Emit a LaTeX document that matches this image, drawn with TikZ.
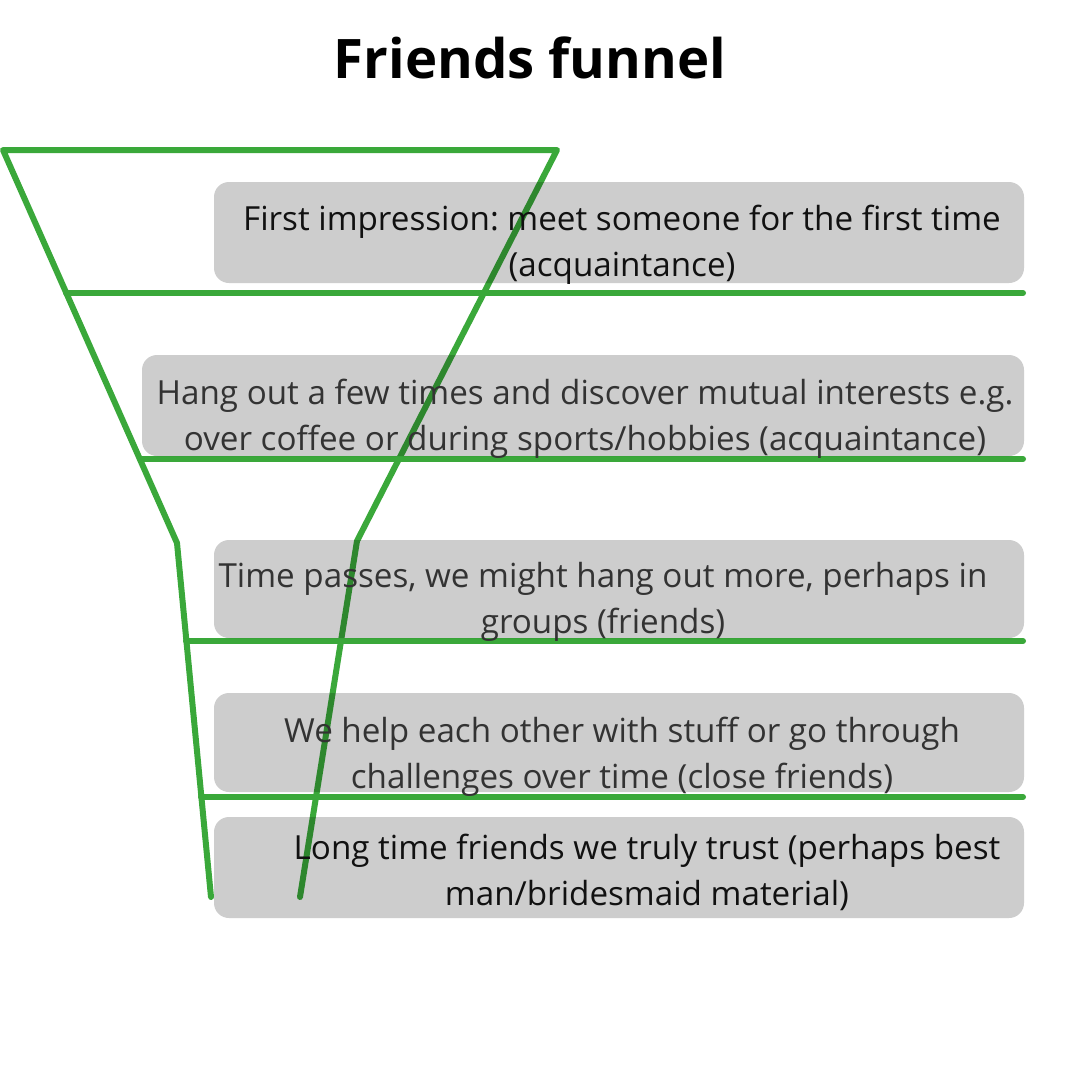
\documentclass[tikz,border=0pt]{standalone}
\usepackage{fontspec}
\setmainfont{Open Sans}
\usetikzlibrary{calc}
\frenchspacing
\definecolor{fgreen}{RGB}{58,168,58}
\definecolor{boxgray}{RGB}{205,205,205}
\definecolor{txtdark}{RGB}{51,51,51}
\definecolor{txtblack}{RGB}{17,17,17}
\tikzset{
  funnelline/.style={draw=fgreen, line width=6pt, line cap=round, line join=round},
  stagebox/.style={fill=boxgray, rounded corners=15pt},
  stagetext/.style={align=center, inner sep=0pt, font=\fontsize{33.2}{46}\selectfont},
}
\begin{document}
\begin{tikzpicture}[x=1pt,y=-1pt]
\useasboundingbox[fill=white] (0,0) rectangle (1080,1080);
% title
\node[font=\fontsize{54.5}{60}\selectfont\bfseries, text=black, anchor=base] (title) at (530,78) {Friends funnel};
% funnel points
\coordinate (LT) at (3,150);
\coordinate (LM) at (177,543);
\coordinate (LB) at (211,897);
\coordinate (RT) at (557,150);
\coordinate (RM) at (357,541);
\coordinate (RB) at (300,897);
% left ends of the level lines
\coordinate (h1) at (66,293);
\coordinate (h2) at (140,459);
\coordinate (h3) at (186,641);
\coordinate (h4) at (201,797);
\coordinate (e1) at (1023,293);
\coordinate (e2) at (1023,459);
\coordinate (e3) at (1023,641);
\coordinate (e4) at (1023,797);
% funnel
\draw[funnelline] (LB) -- (LM) -- (LT) -- (RT) -- (RM) -- (RB);
\draw[funnelline] (h1) -- (e1);
\draw[funnelline] (h2) -- (e2);
\draw[funnelline] (h3) -- (e3);
\draw[funnelline] (h4) -- (e4);
% boxes
\begin{scope}[blend mode=multiply]
\fill[stagebox] (214,182) rectangle (1024,283);
\fill[stagebox] (142,355) rectangle (1024,456);
\fill[stagebox] (214,540) rectangle (1024,638);
\fill[stagebox] (214,693) rectangle (1024,792);
\fill[stagebox] (214,817) rectangle (1024,918);
\end{scope}
% texts
\node[stagetext, text=txtblack] (t1) at (622,245) {First impression: meet someone for the first time\\(acquaintance)};
\node[stagetext, text=txtdark] (t2) at (585,419) {Hang out a few times and discover mutual interests e.g.\\over coffee or during sports/hobbies (acquaintance)};
\node[stagetext, text=txtdark] (t3) at (603,602) {Time passes, we might hang out more, perhaps in\\groups (friends)};
\node[stagetext, text=txtdark] (t4) at (622,757) {We help each other with stuff or go through\\challenges over time (close friends)};
\node[stagetext, text=txtblack] (t5) at (647,872) {Long time friends we truly trust (perhaps best\\man/bridesmaid material)};
\end{tikzpicture}
\end{document}
